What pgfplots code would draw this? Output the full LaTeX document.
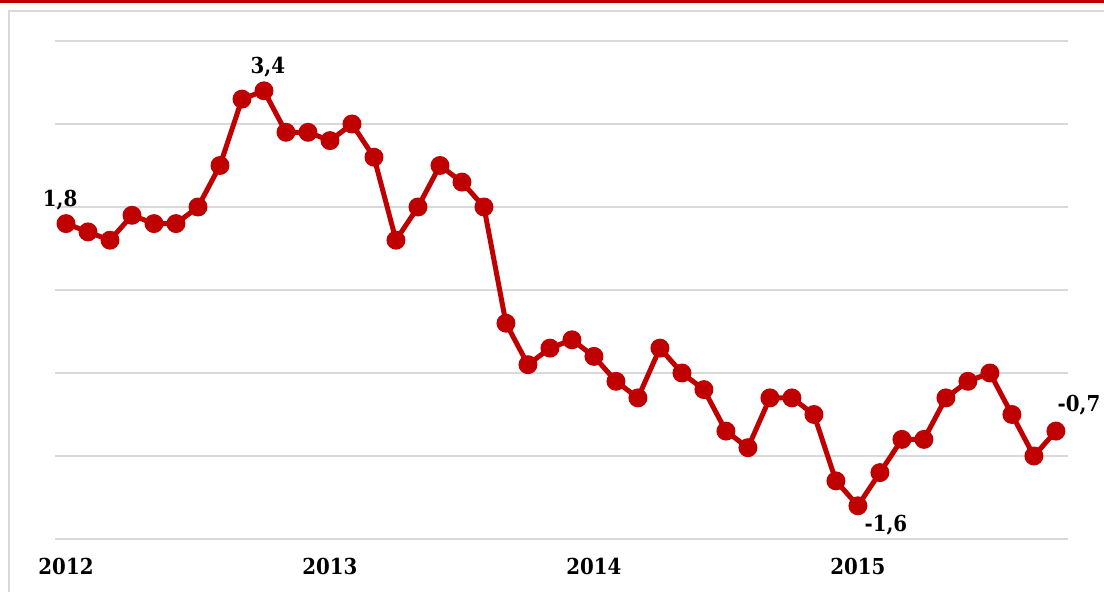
\documentclass[border=0pt]{standalone}
\usepackage{pgfplots}
\pgfplotsset{compat=1.18}
\usepackage{fontspec}
\setmainfont{DejaVu Serif Condensed}
\definecolor{myred}{RGB}{192,0,0}
\definecolor{gridc}{RGB}{217,217,217}
\begin{document}
\begin{tikzpicture}[x=0.75pt,y=0.75pt]
\path[use as bounding box] (0,0) rectangle (1104,592);
\fill[white] (0,0) rectangle (1104,592);
\fill[myred] (0,589) rectangle (1104,592);
\draw[gridc, line width=1.5pt] (9,-5) -- (9,581) -- (1110,581);
\begin{axis}[
  at={(41.25pt,39.75pt)}, anchor=south west,
  scale only axis, width=759.75pt, height=373.5pt,
  xmin=-0.5, xmax=45.55, ymin=-2, ymax=4,
  axis line style={draw=none},
  ytick={-2,-1,0,1,2,3,4}, yticklabels={},
  ymajorgrids=true, xmajorgrids=false,
  y grid style={color=gridc, line width=1.1pt},
  xtick={0,12,24,36}, xticklabels={2012,2013,2014,2015},
  major tick length=0pt,
  xtick style={draw=none}, ytick style={draw=none},
  xticklabel style={font=\bfseries\fontsize{16.5}{18}\selectfont, anchor=north, inner sep=0pt, yshift=-14pt},
  clip=false,
]
\addplot[myred, line width=3.75pt, mark=*, mark size=5.2pt, mark options={fill=myred, draw=none}] coordinates {
(0,1.8)(1,1.7)(2,1.6)(3,1.9)(4,1.8)(5,1.8)(6,2.0)(7,2.5)(8,3.3)(9,3.4)
(10,2.9)(11,2.9)(12,2.8)(13,3.0)(14,2.6)(15,1.6)(16,2.0)(17,2.5)(18,2.3)(19,2.0)
(20,0.6)(21,0.1)(22,0.3)(23,0.4)(24,0.2)(25,-0.1)(26,-0.3)(27,0.3)(28,0.0)(29,-0.2)
(30,-0.7)(31,-0.9)(32,-0.3)(33,-0.3)(34,-0.5)(35,-1.3)(36,-1.6)(37,-1.2)(38,-0.8)(39,-0.8)
(40,-0.3)(41,-0.1)(42,0.0)(43,-0.5)(44,-1.0)(45,-0.7)
};
\node[font=\bfseries\fontsize{16.5}{18}\selectfont] at (axis cs:-0.27,2.08) {1,8};
\node[font=\bfseries\fontsize{16.5}{18}\selectfont] at (axis cs:9.18,3.69) {3,4};
\node[font=\bfseries\fontsize{16.5}{18}\selectfont] at (axis cs:37.27,-1.83) {-1,6};
\node[font=\bfseries\fontsize{16.5}{18}\selectfont] at (axis cs:46.05,-0.39) {-0,7};
\end{axis}
\end{tikzpicture}
\end{document}
